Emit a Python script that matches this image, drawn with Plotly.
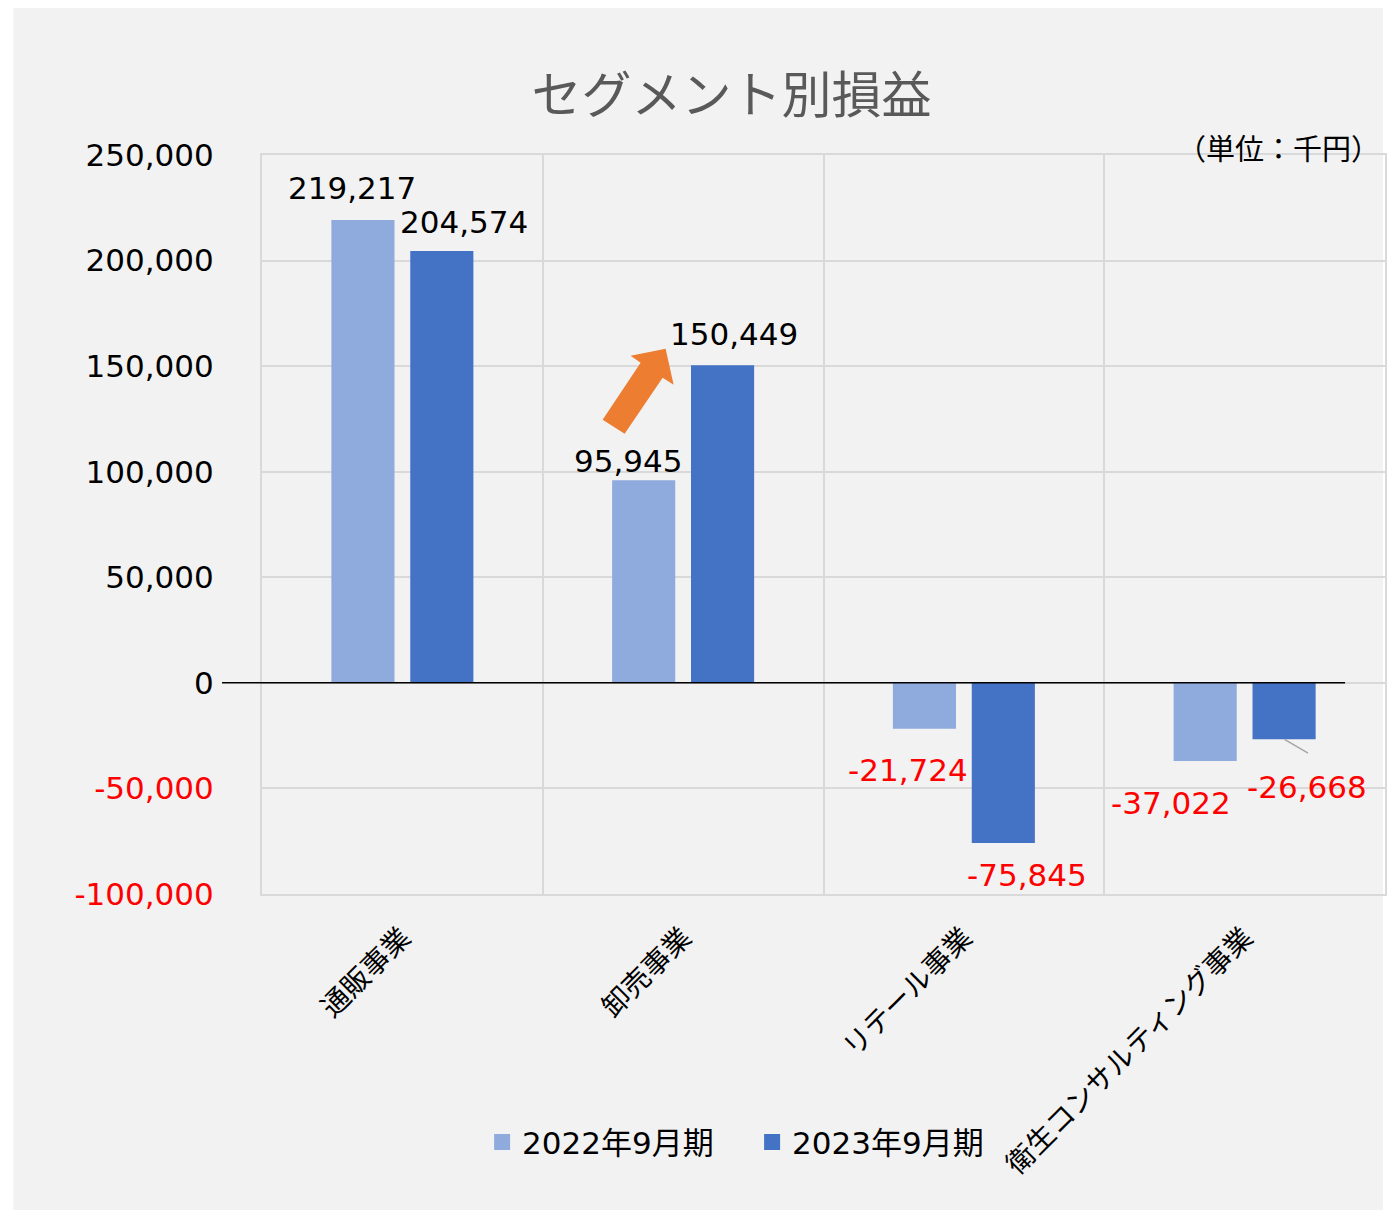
import plotly.graph_objects as go

# data (千円)
segments = ["通販事業", "卸売事業", "リテール事業", "衛生コンサルティング事業"]
series_names = ["2022年9月期", "2023年9月期"]
profit_2022 = [219217, 95945, -21724, -37022]
profit_2023 = [204574, 150449, -75845, -26668]
y_ticks = [-100000, -50000, 0, 50000, 100000, 150000, 200000, 250000]

c22 = "#8FAADC"
c23 = "#4472C4"
grid = "#D9D9D9"
FONT = "DejaVu Sans, Noto Sans CJK JP"
bargap = 0.438

x_idx = list(range(len(segments)))
fig = go.Figure()
fig.add_trace(go.Bar(x=x_idx, y=profit_2022, name=series_names[0],
                     marker=dict(color=c22, line=dict(width=0)), showlegend=False))
fig.add_trace(go.Bar(x=x_idx, y=profit_2023, name=series_names[1],
                     marker=dict(color=c23, line=dict(width=0)), showlegend=False))
# legend entries with bigger squares
for nm, col in zip(series_names, [c22, c23]):
    fig.add_trace(go.Scatter(x=[None], y=[None], mode="markers", name=nm,
                             marker=dict(symbol="square", size=21, color=col)))

# data labels (Excel style placement offsets in px)
off = (1 - bargap) / 4
label_shift = {
    0: [(-11, 32), (22, 29)],
    1: [(-16, 19), (11, 31)],
    2: [(-16, -41), (24, -32)],
    3: [(-34, -42), (23, -48)],
}
for i in x_idx:
    for k, vals in enumerate([profit_2022, profit_2023]):
        v = vals[i]
        xs = i - off if k == 0 else i + off
        col = "#FF0000" if v < 0 else "#000000"
        sh = label_shift[i][k]
        fig.add_annotation(x=xs, y=v, text=f"{v:,}", showarrow=False,
                           xshift=sh[0], yshift=sh[1],
                           font=dict(family=FONT, size=31, color=col))

# leader line for the last label
fig.add_shape(type="line", xref="x", yref="y", xsizemode="pixel", ysizemode="pixel",
              xanchor=3 + off, yanchor=profit_2023[3], x0=0, x1=24, y0=0, y1=-14,
              line=dict(color="#A6A6A6", width=1.5))

tick_text = [f'<span style="color:#FF0000">{t:,}</span>' if t < 0 else f"{t:,}" for t in y_ticks]

# gray panel behind chart
fig.add_shape(type="rect", xref="paper", yref="paper", x0=-0.2213, x1=0.9982,
              y0=-0.4276, y1=1.2043, fillcolor="#F2F2F2", line=dict(width=0), layer="below")
# zero line (shifted left like the original)
fig.add_shape(type="line", xref="paper", yref="y", x0=-0.0356, x1=0.9644, y0=0, y1=0,
              line=dict(color="#000000", width=1.5))
# orange up arrow
fig.add_shape(type="path", xref="x", yref="y", xsizemode="pixel", ysizemode="pixel",
              xanchor=1, yanchor=0,
              path="M-80.5,263 L-42.5,320 L-52.5,327 L-17.5,334 L-9.5,298 L-20.5,305 L-58.5,249 Z",
              fillcolor="#ED7D31", line=dict(width=0))

fig.add_annotation(xref="paper", yref="paper", x=0.997, y=1.0108, xanchor="right",
                   yanchor="middle", text="（単位：千円）", showarrow=False,
                   font=dict(family="Noto Sans CJK JP", size=29, color="#000000"))

# page body adds an 8px margin, so the figure is sized 8px smaller
fig.update_layout(
    width=1388, height=1204,
    paper_bgcolor="#FFFFFF", plot_bgcolor="rgba(0,0,0,0)",
    margin=dict(l=254, r=9, t=147, b=318),
    barmode="group", bargap=bargap, bargroupgap=0.2,
    title=dict(text="セグメント別損益", x=0.418, xref="paper", xanchor="center",
               y=1 - 87 / 1204, yanchor="middle",
               font=dict(family="Noto Sans CJK JP", size=50, color="#595959")),
    font=dict(family=FONT, color="#000000"),
    legend=dict(orientation="h", x=0.196, xanchor="left", y=-0.336, yanchor="middle",
                font=dict(family=FONT, size=31, color="#000000"),
                bgcolor="rgba(0,0,0,0)", entrywidth=225),
    xaxis=dict(range=[-0.5, 3.5], tickmode="array", tickvals=x_idx, ticktext=segments,
               tickangle=-45, showgrid=False, zeroline=False,
               showline=True, mirror=True, linecolor=grid, linewidth=2,
               minor=dict(tickmode="array", tickvals=[0.5, 1.5, 2.5], showgrid=True,
                          gridcolor=grid, gridwidth=2, ticks=""),
               tickfont=dict(family="Noto Sans CJK JP", size=28, color="#000000"),
               ticklabelstandoff=14),
    yaxis=dict(range=[-100000, 250000], tickmode="array", tickvals=y_ticks, ticktext=tick_text,
               showgrid=True, gridcolor=grid, gridwidth=2, zeroline=False,
               showline=True, mirror=True, linecolor=grid, linewidth=2,
               tickfont=dict(family=FONT, size=31, color="#000000"),
               ticklabelstandoff=40),
)

fig.write_html("out.html")
